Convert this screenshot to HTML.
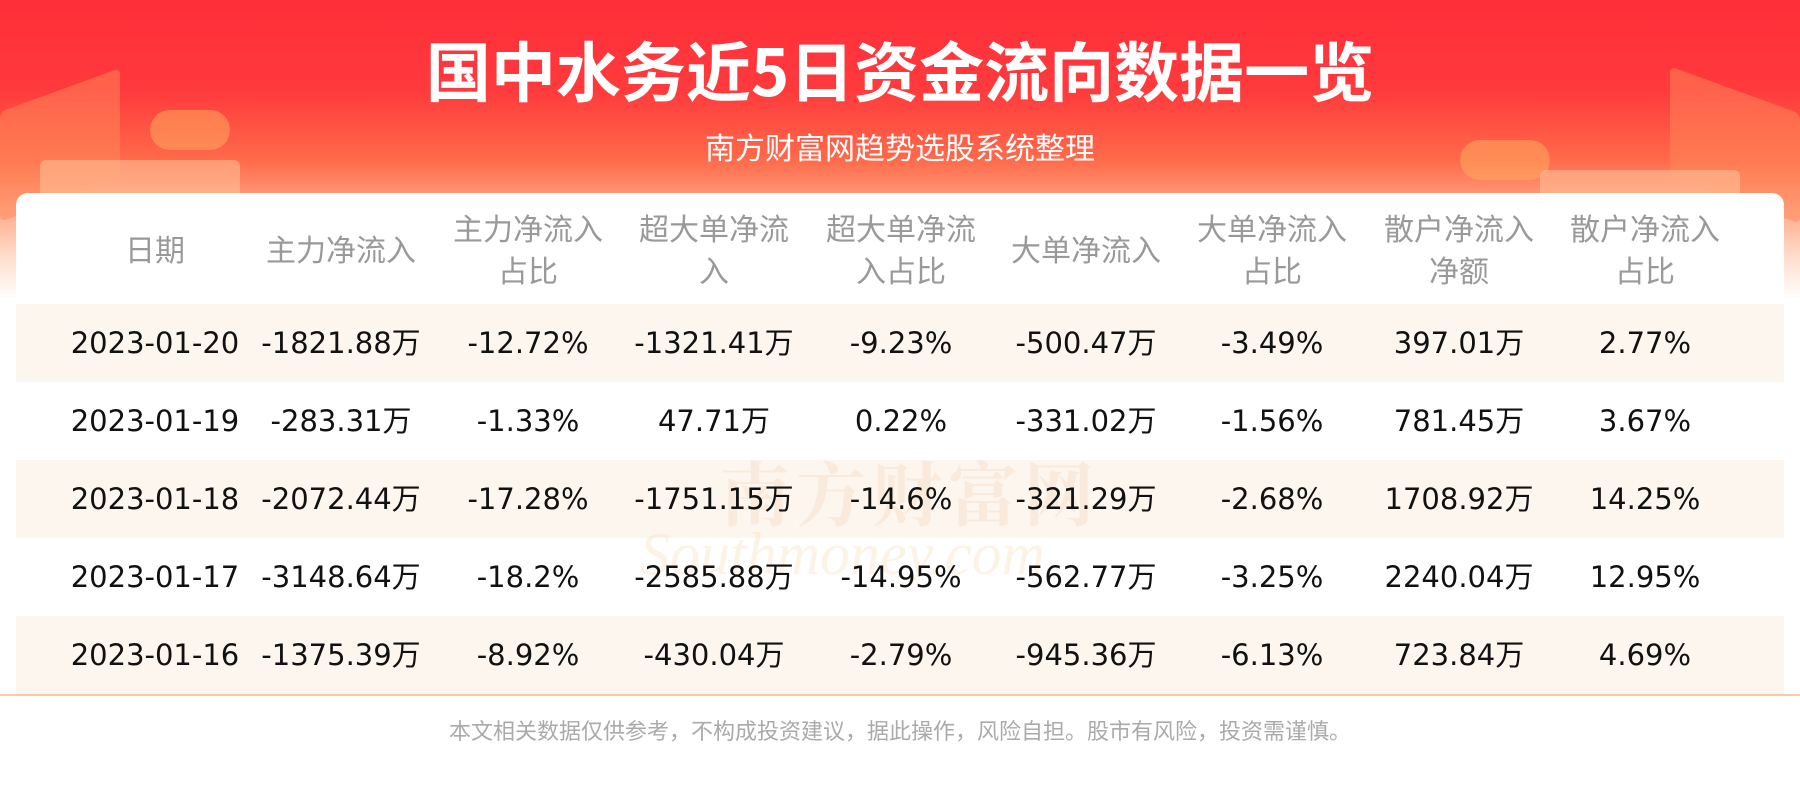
<!DOCTYPE html>
<html><head><meta charset="utf-8"><style>
html,body{margin:0;padding:0}
body{width:1800px;height:800px;position:relative;overflow:hidden;background:#fff;font-family:"DejaVu Sans","Noto Sans CJK SC",sans-serif}
.bg{position:absolute;left:0;top:0;width:1800px;height:320px;background:linear-gradient(180deg,#ff2e3a 0px,#ff3a3c 90px,#ff6a4a 160px,#ffb090 215px,#ffe0d0 260px,#fff 300px)}
.deco{position:absolute;border-radius:6px;opacity:.5}
.title{position:absolute;top:28px;left:0;width:1800px;text-align:center;color:#fff;font-weight:bold;font-size:65px;line-height:80px;font-family:"Noto Sans CJK SC",sans-serif}
.sub{position:absolute;top:125px;left:0;width:1800px;text-align:center;color:#fff;font-size:30px;line-height:42px;font-family:"Noto Sans CJK SC",sans-serif}
.card{position:absolute;left:16px;top:193px;width:1768px;height:502px;background:#fff;border-radius:12px 12px 0 0}
.band{position:absolute;left:16px;width:1768px;height:78px;background:#fdf6ef}
.cell{position:absolute;width:200px;text-align:center;transform:translateX(-100px)}
.h{color:#999;font-size:30px;line-height:42px;font-family:"Noto Sans CJK SC",sans-serif}
.d{color:#111;font-size:29px;line-height:40px;font-family:"DejaVu Sans","Noto Sans CJK SC",sans-serif}
.line{position:absolute;left:0;top:694px;width:1800px;height:2px;background:#ffc9a0}
.foot{position:absolute;top:713px;left:0;width:1800px;text-align:center;color:#aaa;font-size:22px;line-height:34px;font-family:"Noto Sans CJK SC",sans-serif}
.wm{position:absolute;left:720px;top:440px;font-size:70px;color:rgba(240,200,160,.25);font-family:"Noto Serif CJK SC",serif;font-weight:bold;letter-spacing:6px}
.wm2{position:absolute;left:640px;top:520px;font-size:60px;color:rgba(250,215,170,.3);font-style:italic;font-family:"Liberation Serif",serif}
</style></head><body>
<div class="bg"></div>
<div class="deco" style="left:0;top:90px;width:120px;height:110px;background:#ff8a5a;transform:skewY(-20deg)"></div>
<div class="deco" style="left:150px;top:110px;width:80px;height:40px;background:#ffb060;border-radius:20px"></div>
<div class="deco" style="left:40px;top:160px;width:200px;height:40px;background:#ffc9a0"></div>
<div class="deco" style="left:1670px;top:90px;width:130px;height:110px;background:#ff8a5a;transform:skewY(20deg)"></div>
<div class="deco" style="left:1460px;top:140px;width:90px;height:40px;background:#ffb060;border-radius:20px"></div>
<div class="deco" style="left:1540px;top:170px;width:200px;height:30px;background:#ffc9a0"></div>
<div class="title">国中水务近5日资金流向数据一览</div>
<div class="sub">南方财富网趋势选股系统整理</div>
<div class="card"></div>
<div class="band" style="top:304px"></div>
<div class="band" style="top:460px"></div>
<div class="band" style="top:616px"></div>
<div class="wm">南方财富网</div>
<div class="wm2">Southmoney.com</div>
<div id="t"></div>
<div class="line"></div>
<div class="foot">本文相关数据仅供参考，不构成投资建议，据此操作，风险自担。股市有风险，投资需谨慎。</div>
<script>
var xs=[155,341,528,714,901,1086,1272,1459,1645];
var hd=[["日期"],["主力净流入"],["主力净流入","占比"],["超大单净流","入"],["超大单净流","入占比"],["大单净流入"],["大单净流入","占比"],["散户净流入","净额"],["散户净流入","占比"]];
var rows=[["2023-01-20","-1821.88万","-12.72%","-1321.41万","-9.23%","-500.47万","-3.49%","397.01万","2.77%"],
["2023-01-19","-283.31万","-1.33%","47.71万","0.22%","-331.02万","-1.56%","781.45万","3.67%"],
["2023-01-18","-2072.44万","-17.28%","-1751.15万","-14.6%","-321.29万","-2.68%","1708.92万","14.25%"],
["2023-01-17","-3148.64万","-18.2%","-2585.88万","-14.95%","-562.77万","-3.25%","2240.04万","12.95%"],
["2023-01-16","-1375.39万","-8.92%","-430.04万","-2.79%","-945.36万","-6.13%","723.84万","4.69%"]];
var h="";
hd.forEach(function(c,i){var top=c.length==1?227:206;h+='<div class="cell h" style="left:'+xs[i]+'px;top:'+top+'px">'+c.join("<br>")+'</div>';});
rows.forEach(function(r,j){var top=323+j*78;r.forEach(function(v,i){h+='<div class="cell d" style="left:'+xs[i]+'px;top:'+top+'px">'+v+'</div>';});});
document.getElementById("t").innerHTML=h;
</script>
</body></html>
